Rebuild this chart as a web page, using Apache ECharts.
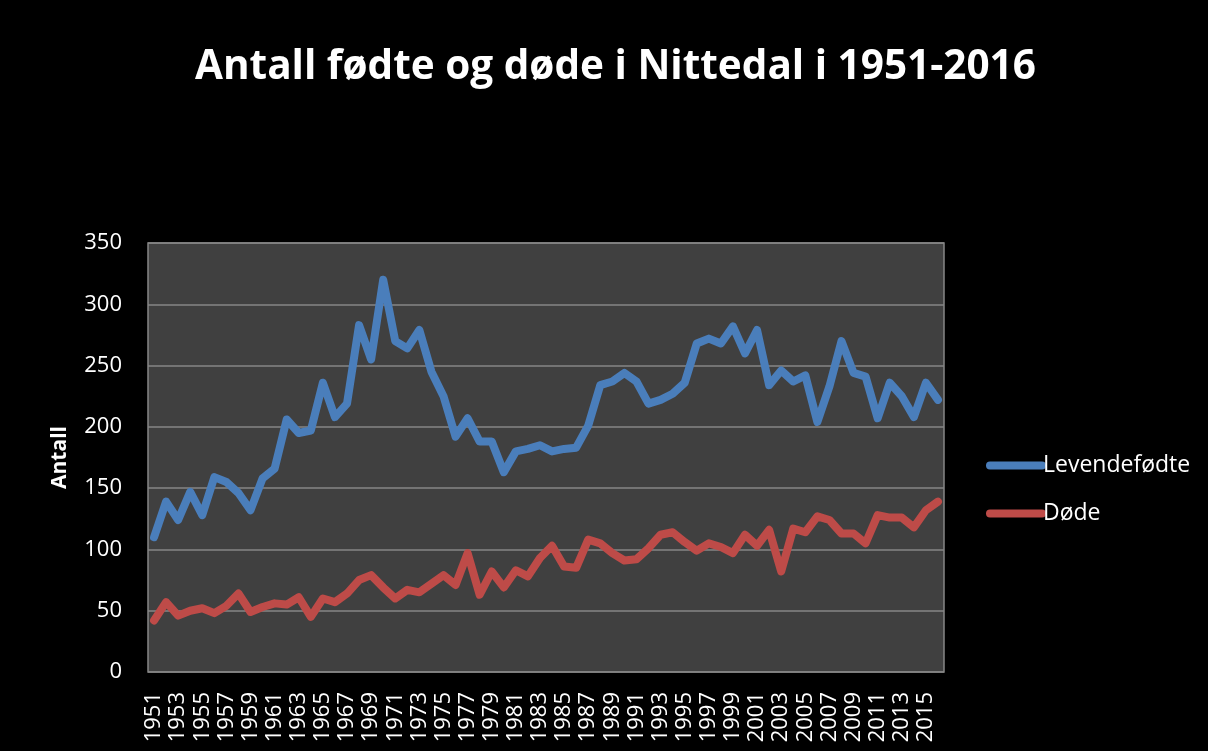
<!DOCTYPE html>
<html>
<head>
<meta charset="utf-8">
<script src="https://cdn.jsdelivr.net/npm/echarts@6/dist/echarts.min.js"></script>
<style>
  html, body { margin: 0; padding: 0; background: #000; }
  #chart { width: 1208px; height: 751px; }
</style>
</head>
<body>
<div id="chart"></div>
<script>
// years 1951-2016
var years = []
for (var y = 1951; y <= 2016; y++) years.push(String(y))

var levendefodte = [
  110, 139, 124, 147, 128, 159, 155, 146, 132, 158,
  166, 206, 195, 197, 236, 208, 219, 283, 255, 320,
  270, 264, 279, 245, 225, 192, 207, 188, 188, 163,
  180, 182, 185, 180, 182, 183, 201, 234, 237, 244,
  237, 219, 222, 227, 236, 268, 272, 268, 282, 260,
  279, 234, 246, 237, 242, 204, 233, 270, 244, 241,
  207, 236, 225, 208, 236, 222
]
var dode = [
  42, 57, 46, 50, 52, 48, 54, 64, 49, 53,
  56, 55, 61, 45, 60, 57, 64, 75, 79, 69,
  60, 67, 65, 72, 79, 71, 97, 63, 82, 69,
  83, 78, 93, 103, 86, 85, 108, 105, 97, 91,
  92, 101, 112, 114, 106, 99, 105, 102, 97, 112,
  103, 116, 82, 117, 114, 127, 124, 113, 113, 105,
  128, 126, 126, 118, 132, 139
]

var font = 'Open Sans'
var pill = 'path://M4,0 H56 A4,4 0 0 1 56,8 H4 A4,4 0 0 1 4,0 Z'

var myChart = echarts.init(document.getElementById('chart'))
myChart.setOption({
  backgroundColor: '#000000',
  animation: false,
  title: {
    text: 'Antall fødte og døde i Nittedal i 1951-2016',
    left: 190,
    top: 42,
    textStyle: { color: '#ffffff', fontFamily: font, fontWeight: 'bold', fontSize: 40.5 }
  },
  legend: {
    orient: 'vertical',
    left: 981,
    top: 447,
    itemWidth: 60,
    itemHeight: 9,
    itemGap: 21,
    data: [
      { name: 'Levendefødte', icon: pill },
      { name: 'Døde', icon: pill }
    ],
    textStyle: { color: '#ffffff', fontFamily: font, fontSize: 23, lineHeight: 27, padding: [0, 0, 0, -8] }
  },
  grid: {
    left: 148,
    right: 264,
    top: 243,
    bottom: 79,
    show: true,
    backgroundColor: '#404040',
    borderColor: '#868686',
    borderWidth: 1.5
  },
  xAxis: {
    type: 'category',
    data: years,
    boundaryGap: true,
    axisLine: { show: false },
    axisTick: { show: false },
    axisLabel: {
      interval: 1,
      rotate: 90,
      margin: 20,
      color: '#ffffff',
      fontFamily: font,
      fontSize: 22
    }
  },
  yAxis: {
    type: 'value',
    min: 0,
    max: 350,
    interval: 50,
    name: 'Antall',
    nameLocation: 'middle',
    nameGap: 77,
    nameTextStyle: { color: '#ffffff', fontFamily: font, fontWeight: 'bold', fontSize: 21 },
    axisLine: { show: false },
    axisTick: { show: false },
    axisLabel: { color: '#ffffff', fontFamily: font, fontSize: 22, margin: 26 },
    splitLine: { lineStyle: { color: '#868686', width: 1.5 } }
  },
  series: [
    {
      name: 'Levendefødte',
      type: 'line',
      data: levendefodte,
      showSymbol: false,
      itemStyle: { color: '#4a7ebb' },
      lineStyle: { color: '#4a7ebb', width: 8, cap: 'round', join: 'round' }
    },
    {
      name: 'Døde',
      type: 'line',
      data: dode,
      showSymbol: false,
      itemStyle: { color: '#be4b48' },
      lineStyle: { color: '#be4b48', width: 8, cap: 'round', join: 'round' }
    }
  ]
})
</script>
</body>
</html>
